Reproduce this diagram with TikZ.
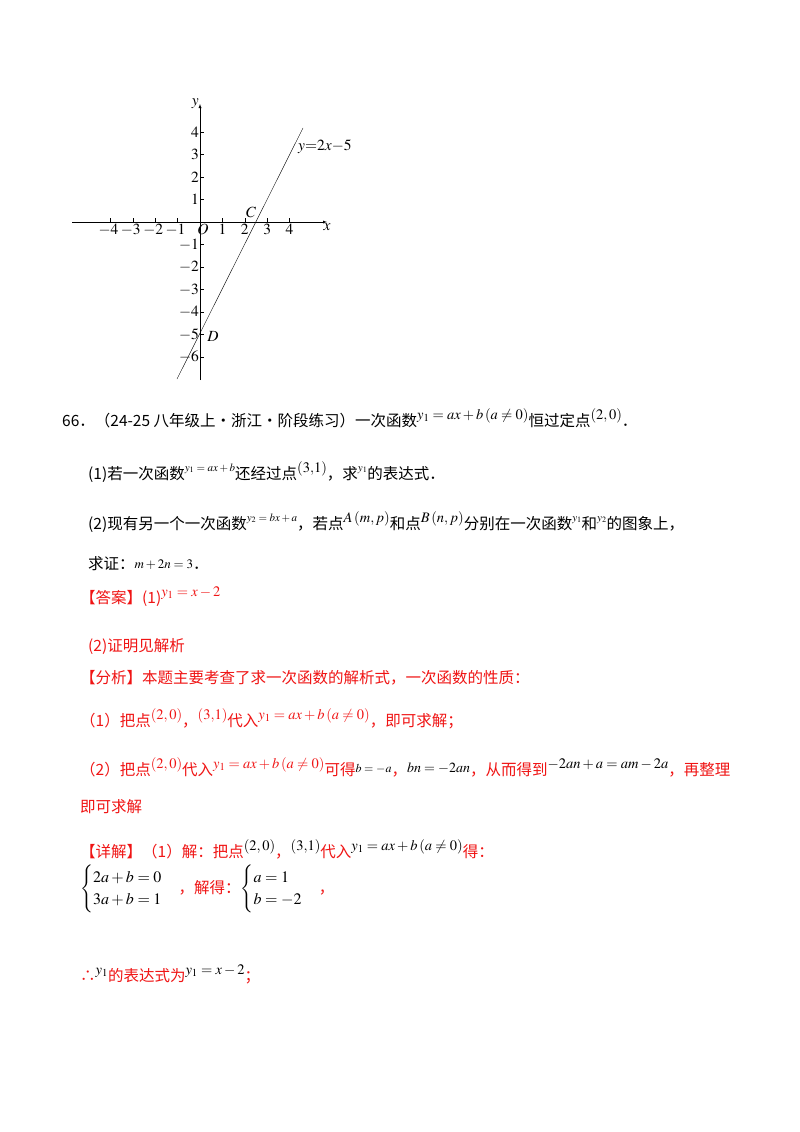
\RequirePackage{fix-cm}
\documentclass[tikz,border=0pt]{standalone}
\usepackage{amsmath}
\usepackage{mathptmx}
\usepackage{fontspec}
\newfontfamily\cjk{Noto Sans CJK SC}
\definecolor{ansred}{RGB}{240,20,20}
\newcommand{\up}[1]{\raisebox{7pt}{\fontsize{14.5}{16}\selectfont$#1$}}
\newcommand{\upp}[1]{\raisebox{8pt}{\fontsize{11}{12}\selectfont$#1$}}
\begin{document}
\begin{tikzpicture}[x=1pt,y=-1pt,
  txt/.style={anchor=base west,inner sep=0pt,font=\cjk\fontsize{15.5}{18}\selectfont},
  red/.style={txt,text=ansred},
  tick/.style={font=\fontsize{15.5}{16}\selectfont,inner sep=1pt}]
\useasboundingbox[fill=white] (0,0) rectangle (800,1132);
% graph
\coordinate (O) at (200,222);
\draw[-latex] (72,222) -- (327,222) node[below=1pt,tick] (xl) {$x$};
\draw[-latex] (200,380) -- (200,104) node[left=0pt,tick] (yl) {$y$};
\foreach \i in {-4,...,4}{\draw (200+22.4*\i,222) -- (200+22.4*\i,218);}
\foreach \i in {-6,...,4}{\draw (200,222-22.5*\i) -- (204,222-22.5*\i);}
\foreach \i in {-4,-3,-2,-1}{\node[tick,below] (xt\i) at (198+22.4*\i,223) {$\i$};}
\foreach \i in {1,2,3,4}{\node[tick,below] (xt\i) at (200+22.4*\i,223) {$\i$};}
\node[tick,below] (o) at (193,223) {\phantom{$-1$}$O$};
\foreach \i in {-6,...,-1,1,2,3,4}{\node[tick,left] (yt\i) at (200,222-22.5*\i) {$\i$};}
\draw (177,379) -- (303,128);
\node[tick] (C) at (251,212) {$C$};
\node[tick] (D) at (213,336) {$D$};
\node[tick,anchor=west] (eq) at (297,147) {$y{=}2x{-}5$};
% text
\node[txt] (l1) at (62,426) {66．（24-25 八年级上·浙江·阶段练习）一次函数\up{y_1=ax+b\left(a\neq0\right)}恒过定点\up{\left(2,0\right)}．};
\node[txt] (l2) at (88,479) {(1)若一次函数\upp{y_1=ax+b}还经过点\up{(3{,}1)}，求\upp{y_1}的表达式．};
\node[txt] (l3) at (88,529) {(2)现有另一个一次函数\upp{y_2=bx+a}，若点\up{A\left(m,p\right)}和点\up{B\left(n,p\right)}分别在一次函数\upp{y_1}和\upp{y_2}的图象上，};
\node[txt] (l4) at (88,569) {求证：\raisebox{1pt}{\fontsize{13}{14}\selectfont$m+2n=3$}．};
\node[red] (l5) at (80,603) {【答案】(1)\up{y_1=x-2}};
\node[red] (l6) at (88,651) {(2)证明见解析};
\node[red] (l7) at (80,683) {【分析】本题主要考查了求一次函数的解析式，一次函数的性质：};
\node[red] (l8) at (80,726) {（1）把点\up{\left(2,0\right)}，\up{(3{,}1)}代入\up{y_1=ax+b\left(a\neq0\right)}，即可求解；};
\node[red] (l9) at (80,775) {（2）把点\up{\left(2,0\right)}代入\up{y_1=ax+b\left(a\neq0\right)}可得\raisebox{3pt}{\fontsize{12}{13}\selectfont\color{black}$\boldsymbol{b=-a}$}，\raisebox{3pt}{\fontsize{14}{15}\selectfont\color{black}$bn=-2an$}，从而得到\up{\color{black}-2an+a=am-2a}，再整理};
\node[red] (l10) at (80,812) {即可求解};
\node[red] (l11) at (80,857) {【详解】（1）解：把点\up{\color{black}\left(2,0\right)}，\up{\color{black}(3{,}1)}代入\up{\color{black}y_1=ax+b\left(a\neq0\right)}得：};
\node[red,anchor=west] (l12) at (80,889) {{\color{black}\fontsize{16}{19}\selectfont$\begin{cases}2a+b=0\\3a+b=1\end{cases}$}，解得：{\color{black}\fontsize{16}{19}\selectfont$\begin{cases}a=1\\b=-2\end{cases}$}，};
\node[red] (l13) at (80,981) {∴\up{\color{black}y_1}的表达式为\up{\color{black}y_1=x-2}；};
\end{tikzpicture}
\end{document}
